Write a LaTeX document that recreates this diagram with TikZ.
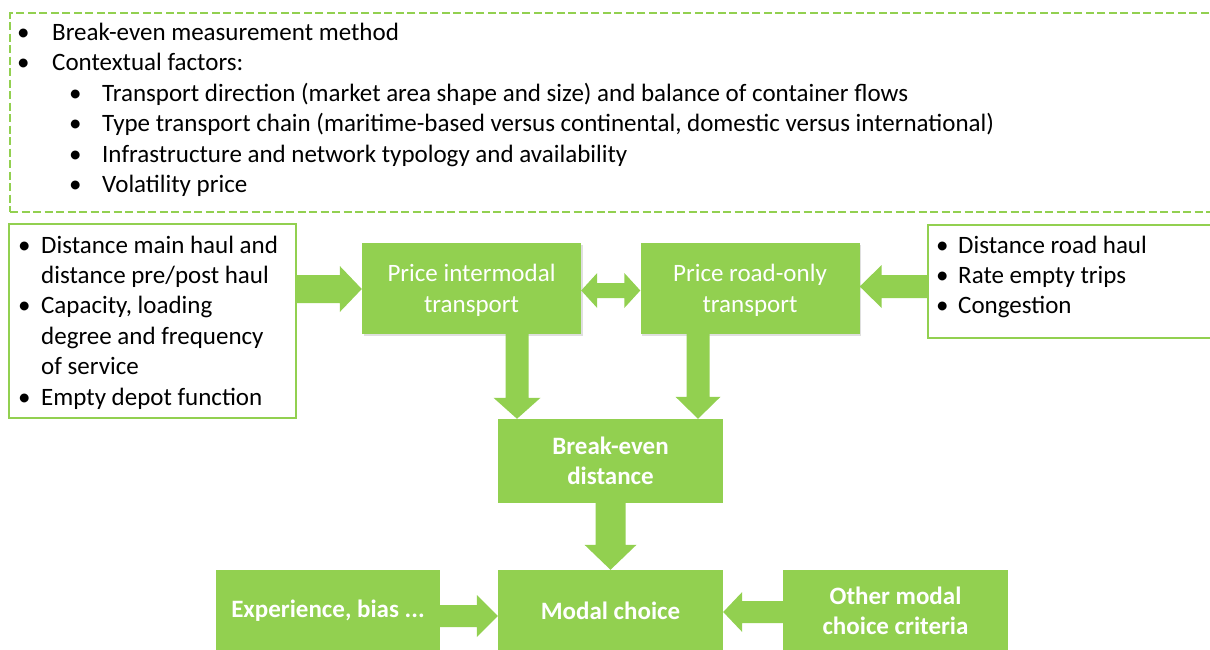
\documentclass[tikz,border=0pt]{standalone}
\usepackage{fontspec}
\setmainfont{Carlito}
\usetikzlibrary{calc,shadows}
\definecolor{lgreen}{HTML}{92D050}
\newcommand\sizefont{\fontsize{25}{30.4}\selectfont}
\newcommand\bul[1]{\makebox[#1][l]{\textbullet}}
% block arrow: start, tip, shaft half width, head half width, head length
\newcommand \blockarrow[5]
{
\coordinate (h) at ($(#2)!#5!(#1)$);
\fill[lgreen] ($(#1)!#3!90:(#2)$) -- ($(h)!#3!-90:(#1)$) -- ($(h)!#4!-90:(#1)$) -- (#2)
  -- ($(h)!#4!90:(#1)$) -- ($(h)!#3!90:(#1)$) -- ($(#1)!#3!-90:(#2)$) -- cycle;
}
\newcommand \dblblockarrow[5]
{
\coordinate (h1) at ($(#1)!#5!(#2)$);
\coordinate (h2) at ($(#2)!#5!(#1)$);
\fill[lgreen] (#1) -- ($(h1)!#4!90:(#2)$) -- ($(h1)!#3!90:(#2)$) -- ($(h2)!#3!-90:(#1)$)
  -- ($(h2)!#4!-90:(#1)$) -- (#2) -- ($(h2)!#4!90:(#1)$) -- ($(h2)!#3!90:(#1)$)
  -- ($(h1)!#3!-90:(#2)$) -- ($(h1)!#4!-90:(#2)$) -- cycle;
}
\tikzset{
  greenbox/.style={fill=lgreen, text=white, align=center, inner sep=0pt, font=\sizefont},
  boldbox/.style={greenbox, font=\sizefont\bfseries},
  pricebox/.style={greenbox, minimum width=219pt, minimum height=91pt, text depth=0pt,
    drop shadow={shadow xshift=1.5pt, shadow yshift=-2pt, opacity=0.25}},
  outbox/.style={draw=lgreen, line width=2.2pt, fill=white},
  listtext/.style={anchor=base west, align=left, inner sep=0pt, font=\sizefont}
}
\begin{document}
\begin{tikzpicture}[x=1pt, y=-1pt]
\path[use as bounding box, clip] (0,0) rectangle (1210,650);
\fill[white] (0,0) rectangle (1210,650);

% context box
\node[draw=lgreen, line width=2.4pt, dash pattern=on 8pt off 3.5pt, anchor=north west,
  minimum width=1230pt, minimum height=199pt] (context) at (9,12) {};
\node[listtext] (contexttxt) at (17,192.5)
  {\bul{35pt}Break-even measurement method\\
   \bul{35pt}Contextual factors:\\
   \hspace*{52pt}\bul{33pt}Transport direction (market area shape and size) and balance of container flows\\
   \hspace*{52pt}\bul{33pt}Type transport chain (maritime-based versus continental, domestic versus international)\\
   \hspace*{52pt}\bul{33pt}Infrastructure and network typology and availability\\
   \hspace*{52pt}\bul{33pt}Volatility price};

% side boxes
\node[outbox, minimum width=287pt, minimum height=194pt] (costs) at (152.5,321) {};
\node[listtext] (coststxt) at (18,405)
  {\bul{23pt}Distance main haul and\\
   \hspace*{23pt}distance pre/post haul\\
   \bul{23pt}Capacity, loading\\
   \hspace*{23pt}degree and frequency\\
   \hspace*{23pt}of service\\
   \bul{23pt}Empty depot function};
\node[outbox, minimum width=300pt, minimum height=113pt, anchor=north west] (roadcosts) at (927,224) {};
\node[listtext] (roadcoststxt) at (936,313.8)
  {\bul{22pt}Distance road haul\\
   \bul{22pt}Rate empty trips\\
   \bul{22pt}Congestion};

% green boxes
\node[pricebox] (intermodal) at (471.5,288.5) {Price intermodal\\transport};
\node[pricebox] (roadonly) at (750,288.5) {Price road-only\\transport};
\node[boldbox, minimum width=225pt, minimum height=84pt] (breakeven) at (610.5,461) {Break-even\\distance};
\node[boldbox, minimum width=225pt, minimum height=82pt] (modal) at (610.5,611) {Modal choice};
\node[boldbox, minimum width=224pt, minimum height=82pt] (experience) at (328,611) {Experience, bias ...};
\node[boldbox, minimum width=225pt, minimum height=82pt] (other) at (895.5,611) {Other modal\\choice criteria};

% arrows
\coordinate (c1) at (costs.east |- 0,289);
\coordinate (c2) at (intermodal.west |- 0,289);
\coordinate (p1) at (intermodal.east |- 0,290.5);
\coordinate (p2) at (roadonly.west |- 0,290.5);
\coordinate (r1) at (roadcosts.west |- 0,286.5);
\coordinate (r2) at (roadonly.east |- 0,286.5);
\coordinate (i1) at (intermodal.south -| 517,0);
\coordinate (i2) at (breakeven.north -| 517,0);
\coordinate (o1) at (roadonly.south -| 698,0);
\coordinate (o2) at (breakeven.north -| 698,0);
\coordinate (b1) at (breakeven.south -| 610.5,0);
\coordinate (b2) at (modal.north -| 610.5,0);
\coordinate (e1) at (experience.east |- 0,616);
\coordinate (e2) at (modal.west |- 0,616);
\coordinate (m1) at (other.west |- 0,612);
\coordinate (m2) at (modal.east |- 0,612);
\blockarrow{c1}{c2}{14pt}{23pt}{22pt}
\dblblockarrow{p1}{p2}{7.5pt}{17.5pt}{16pt}
\blockarrow{r1}{r2}{11.5pt}{21.5pt}{22pt}
\blockarrow{i1}{i2}{11.5pt}{23.5pt}{21pt}
\blockarrow{o1}{o2}{11.5pt}{22.5pt}{22pt}
\blockarrow{b1}{b2}{15pt}{26pt}{25pt}
\blockarrow{e1}{e2}{11pt}{21pt}{21pt}
\blockarrow{m1}{m2}{11pt}{20pt}{19pt}
\end{tikzpicture}
\end{document}
